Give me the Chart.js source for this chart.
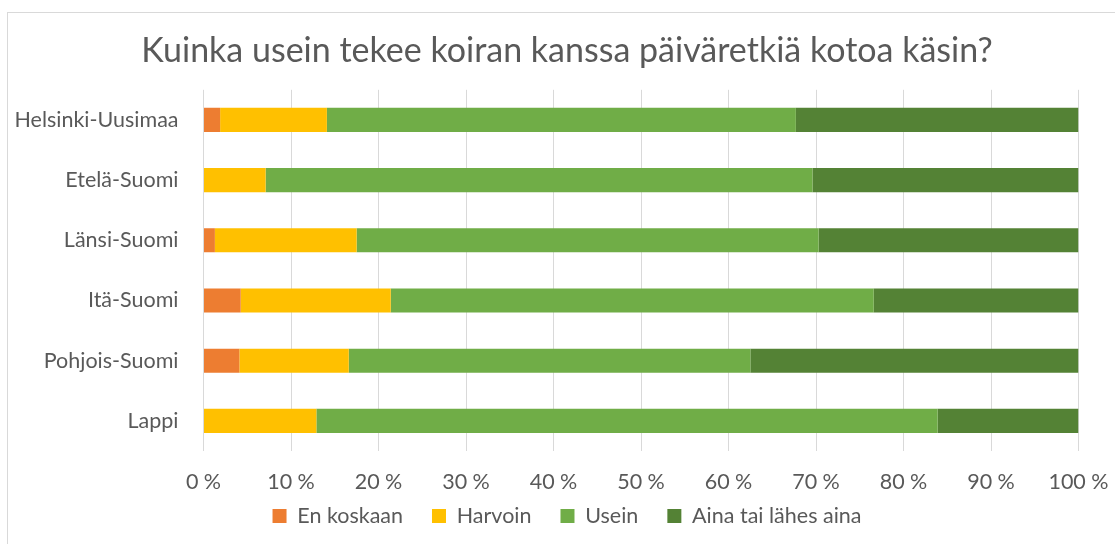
<!DOCTYPE html>
<html>
<head>
<meta charset="utf-8">
<script src="https://cdn.jsdelivr.net/npm/chart.js@4"></script>
<style>
  html, body { margin: 0; padding: 0; background: #fff; overflow: hidden; }
  #wrap { position: relative; width: 1115px; height: 544px; }
  #frame { position: absolute; left: 7px; top: 12px; width: 1120px; height: 540px; border: 1px solid #d9d9d9; box-sizing: border-box; }
  canvas { position: absolute; left: 0; top: 0; }
</style>
</head>
<body>
<div id="wrap">
  <div id="frame"></div>
  <canvas id="barChart" width="1115" height="544"></canvas>
</div>
<script>
  var regions = ['Helsinki-Uusimaa', 'Etelä-Suomi', 'Länsi-Suomi', 'Itä-Suomi', 'Pohjois-Suomi', 'Lappi'];
  var enKoskaan = [1.9, 0, 1.3, 4.25, 4.1, 0];
  var harvoin = [12.2, 7.1, 16.2, 17.15, 12.5, 12.9];
  var usein = [53.6, 62.5, 52.8, 55.2, 45.9, 71.0];
  var ainaTaiLahes = [32.3, 30.4, 29.7, 23.4, 37.5, 16.1];
  var xTicks = [0, 10, 20, 30, 40, 50, 60, 70, 80, 90, 100];

  var font = 'Lato, "Liberation Sans", sans-serif';
  Chart.defaults.font.family = font;
  Chart.defaults.color = '#595959';

  // left padding keeps title + legend centred like the original frame
  var padLeft = 55.5;

  // let tick labels run outside their own scale box (no clipping)
  function noLabelClip(scale) {
    scale._computeLabelArea = function() { return undefined; };
  }

  var ctx = document.getElementById('barChart').getContext('2d');
  var myChart = new Chart(ctx, {
    type: 'bar',
    data: {
      labels: regions,
      datasets: [
        { label: 'En koskaan', data: enKoskaan, backgroundColor: '#ED7D31' },
        { label: 'Harvoin', data: harvoin, backgroundColor: '#FFC000' },
        { label: 'Usein', data: usein, backgroundColor: '#70AD47' },
        { label: 'Aina tai lähes aina', data: ainaTaiLahes, backgroundColor: '#548235' }
      ]
    },
    options: {
      indexAxis: 'y',
      responsive: false,
      animation: false,
      layout: { padding: { top: 31, left: padLeft, right: 36.5, bottom: 7.25 } },
      datasets: {
        bar: { categoryPercentage: 1, barPercentage: 0.4, borderWidth: 0 }
      },
      scales: {
        x: {
          stacked: true,
          min: 0,
          max: 100,
          afterBuildTicks: function(scale) {
            scale.ticks = xTicks.map(function(v) { return { value: v }; });
          },
          ticks: {
            font: { size: 21.5 },
            padding: 18,
            maxRotation: 0,
            callback: function(v) { return v + ' %'; }
          },
          grid: { color: '#d9d9d9', drawTicks: false },
          border: { display: false },
          afterFit: function(scale) {
            scale.height = 25.25;
            scale.paddingLeft = 0;
            scale.paddingRight = 0;
            noLabelClip(scale);
          }
        },
        y: {
          stacked: true,
          ticks: { font: { size: 21.5 }, padding: 17 },
          grid: { display: false },
          border: { display: false },
          afterFit: function(scale) {
            scale.width = 203.5 - padLeft;
            scale.paddingTop = 0;
            scale.paddingBottom = 0;
            noLabelClip(scale);
          }
        }
      },
      plugins: {
        title: {
          display: true,
          text: 'Kuinka usein tekee koiran kanssa päiväretkiä kotoa käsin?',
          font: { size: 34, weight: 'normal' },
          color: '#595959',
          padding: { top: 0, bottom: 18 }
        },
        legend: {
          position: 'bottom',
          labels: {
            boxWidth: 14,
            boxHeight: 14,
            padding: 29,
            font: { size: 21.5 },
            color: '#595959'
          }
        },
        tooltip: { enabled: false }
      }
    }
  });
</script>
</body>
</html>
